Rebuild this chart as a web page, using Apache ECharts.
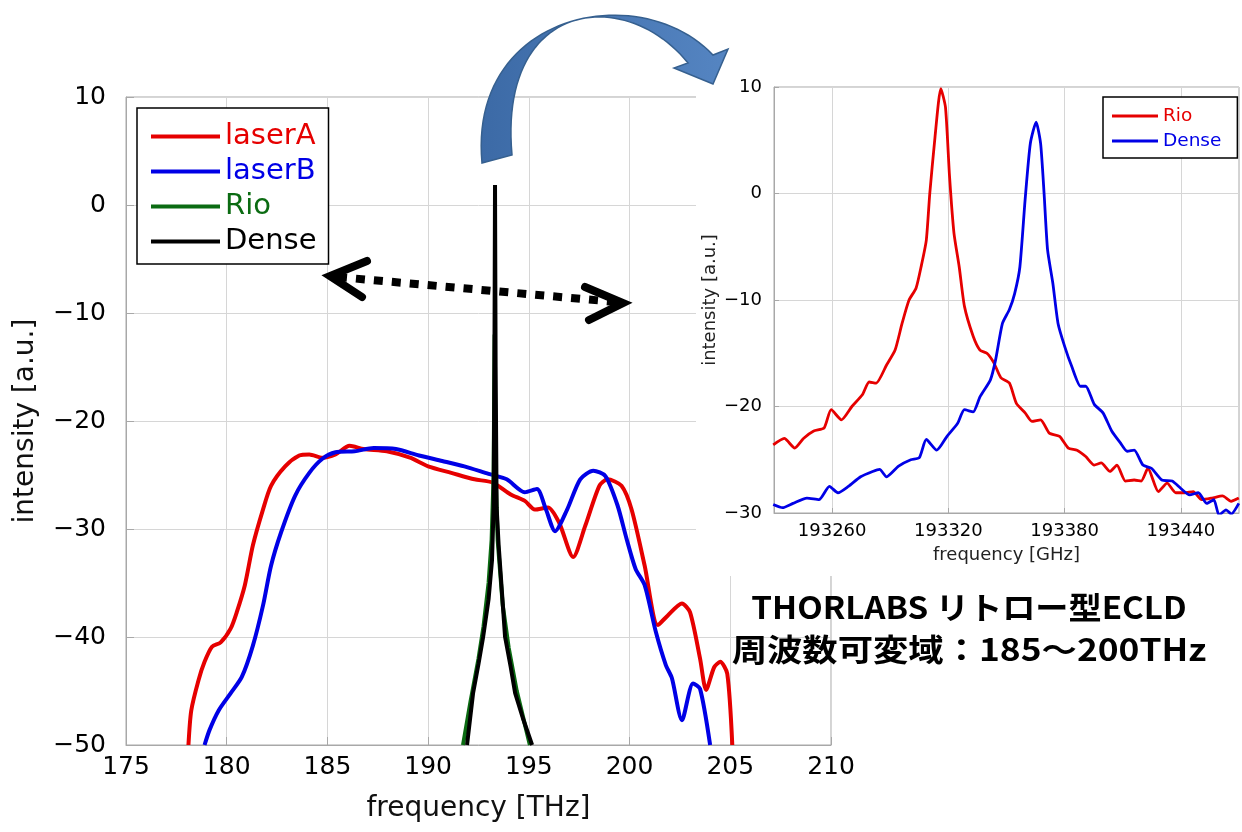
<!DOCTYPE html>
<html>
<head>
<meta charset="utf-8">
<script src="https://cdn.jsdelivr.net/npm/echarts@6/dist/echarts.min.js"></script>
<style>
html,body{margin:0;padding:0;background:#fff;}
#chart{width:1242px;height:832px;}
</style>
</head>
<body>
<div id="chart"></div>
<script>
// ---------- main chart data (frequency THz, intensity a.u.) ----------
const laserA = [[178.1,-50],[178.24,-46.8],[178.6,-44],[178.9,-42.3],[179.27,-40.9],[179.7,-40.5],[180.2,-39.2],[180.5,-37.7],[180.9,-35.2],[181.3,-31.5],[181.8,-28.2],[182.2,-26],[182.9,-24.2],[183.6,-23.2],[184.1,-23.1],[184.75,-23.4],[185.4,-23.1],[186.1,-22.3],[186.8,-22.6],[187.95,-22.8],[189.1,-23.4],[190,-24.2],[191.15,-24.8],[192.3,-25.4],[193.2,-25.7],[194.1,-26.8],[194.8,-27.4],[195.3,-28.2],[195.95,-28],[196.5,-29.4],[197.2,-32.6],[197.8,-29.7],[198.5,-26],[198.9,-25.4],[199.6,-26],[200.1,-28.2],[200.75,-33.4],[201.4,-38.9],[201.9,-38],[202.6,-36.9],[203.0,-37.7],[203.5,-42],[203.8,-44.9],[204.2,-42.8],[204.5,-42.3],[204.85,-43.4],[205.1,-50]];
const laserB = [[178.9,-50],[179.15,-48.6],[179.6,-46.8],[180.2,-45.2],[180.75,-43.7],[181.3,-40.8],[181.8,-37.1],[182.2,-33.4],[182.7,-30.3],[183.4,-26.9],[184.1,-24.8],[184.75,-23.5],[185.4,-22.9],[186.35,-22.8],[187.3,-22.5],[188.4,-22.6],[189.55,-23.2],[190.7,-23.7],[191.8,-24.2],[193,-24.9],[193.9,-25.4],[194.8,-26.6],[195.4,-26.3],[195.85,-28.2],[196.3,-30.2],[196.9,-28.2],[197.55,-25.4],[198.2,-24.6],[198.8,-25.1],[199.4,-27.8],[199.85,-30.9],[200.3,-33.7],[200.75,-35.2],[201.3,-39.5],[201.8,-42.6],[202.1,-43.8],[202.6,-47.7],[203.15,-44.3],[203.5,-44.8],[204.0,-50]];
const rioMain = [[191.73,-50],[192.1,-46],[192.5,-42],[192.75,-39],[193.0,-35],[193.15,-31],[193.25,-25],[193.3,-12],[193.35,-25],[193.45,-31],[193.7,-37],[194.0,-41],[194.4,-45],[195.05,-50]];
const denseMain = [[191.93,-50],[192.23,-45.2],[192.5,-42.5],[192.73,-40],[193.0,-36.5],[193.17,-32.9],[193.25,-28],[193.29,-15],[193.32,1.85],[193.35,-15],[193.4,-28],[193.5,-31.5],[193.82,-40],[194.1,-42.8],[194.32,-45.2],[194.7,-47.5],[195.16,-50]];

// ---------- inset data (frequency GHz, intensity a.u.) ----------
const rioInset = [[193229.6,-23.6],[193235.3,-23.0],[193240.7,-23.9],[193245.2,-23.0],[193250.5,-22.3],[193255.9,-22.0],[193259.5,-20.3],[193264.8,-21.25],[193270.2,-20],[193275.6,-18.9],[193279.1,-17.7],[193282.7,-17.8],[193288.1,-16.1],[193292.5,-14.7],[193296.1,-12.2],[193299.7,-10],[193303.3,-8.9],[193305.9,-6.9],[193308.6,-4.4],[193310.4,0],[193313.1,5.3],[193316.1,9.85],[193318.5,8.1],[193320.6,1.6],[193322.9,-3.75],[193325.6,-6.9],[193328.3,-10.6],[193332.8,-13.4],[193336.3,-14.7],[193339.9,-15],[193343.5,-15.9],[193347.1,-17.3],[193351.5,-17.8],[193355.1,-19.7],[193359.6,-20.6],[193363.1,-21.4],[193367.6,-21.25],[193372.1,-22.5],[193377.4,-22.8],[193381.9,-23.9],[193386.4,-24.1],[193390.9,-24.7],[193395.3,-25.5],[193398.9,-25.3],[193403.4,-26.1],[193407,-25.5],[193411.4,-27],[193415.9,-26.9],[193419.5,-27],[193423.0,-25.8],[193428.4,-28],[193432.9,-27.2],[193437.4,-28.1],[193441.8,-28.1],[193446.4,-28],[193450.7,-28.75],[193456.1,-28.6],[193461.5,-28.4],[193465.9,-28.9],[193469.9,-28.6]];
const denseInset = [[193229.6,-29.2],[193234.4,-29.5],[193239.8,-29.1],[193247,-28.6],[193253.2,-28.75],[193258.6,-27.5],[193263,-28.1],[193268.4,-27.5],[193274.7,-26.6],[193280.9,-26.1],[193284.5,-25.9],[193288.1,-26.6],[193294.3,-25.6],[193300.6,-25],[193305,-24.8],[193308.6,-23.1],[193314,-24.1],[193319.3,-22.8],[193324.7,-21.6],[193328.3,-20.3],[193332.8,-20.5],[193336.3,-19.1],[193341.7,-17.5],[193344.4,-15.6],[193347.9,-12.2],[193351.5,-10.9],[193354.2,-9.4],[193356.9,-6.9],[193359.6,-0.6],[193362.3,4.7],[193365.3,6.7],[193367.6,4.7],[193369.4,0],[193371.2,-5.3],[193373.9,-8.4],[193376.6,-12.2],[193380.1,-14.4],[193383.7,-16.25],[193388.2,-18.1],[193390.9,-18.1],[193395.3,-19.8],[193399.8,-20.6],[193404.3,-22.3],[193408.7,-23.4],[193412.3,-24.2],[193415.9,-24.1],[193420.4,-25.5],[193424.8,-25.8],[193430.2,-26.9],[193435.5,-27],[193440,-27.7],[193444.5,-28.3],[193449,-28.1],[193453.4,-29.1],[193457,-28.75],[193459.7,-30.2],[193463.3,-29.7],[193466,-30.1],[193469.9,-29.1]];

const insetTicks = [193260, 193320, 193380, 193440];
const mainNames = ['laserA', 'laserB', 'Rio', 'Dense'];
const insetNames = ['Rio', 'Dense'];
const noteLines = ['THORLABS リトロー型ECLD', '周波数可変域：185～200THz'];

const RED = '#e60000', BLUE = '#0000e6', GREEN = '#0b6b12', BLACK = '#000000';
const FONT = 'DejaVu Sans';
const minusFmt = v => (v < 0 ? '\u2212' + Math.abs(v) : String(v));

// curved arrow outline (decoration), sampled from cubic curves
function cubic(p0, p1, p2, p3, n) {
  const pts = [];
  for (let i = 0; i <= n; i++) {
    const t = i / n, u = 1 - t;
    pts.push([
      u*u*u*p0[0] + 3*u*u*t*p1[0] + 3*u*t*t*p2[0] + t*t*t*p3[0],
      u*u*u*p0[1] + 3*u*u*t*p1[1] + 3*u*t*t*p2[1] + t*t*t*p3[1]
    ]);
  }
  return pts;
}
const arrowPts = []
  .concat(cubic([482,163],[468,12],[640,-22],[713,55], 50))
  .concat([[728,49],[713,84],[674,68]])
  .concat(cubic([688,63],[625,-15],[498,0],[512,155], 50));

const chart = echarts.init(document.getElementById('chart'), null, {renderer: 'canvas'});

const option = {
  backgroundColor: '#ffffff',
  animation: false,
  grid: [
    {left: 126, right: 411, top: 97, bottom: 87, show: true, borderColor: '#a8a8a8', borderWidth: 1, z: 0},
    {left: 774, right: 3, top: 87, bottom: 319, show: true, borderColor: '#a8a8a8', borderWidth: 1, backgroundColor: '#ffffff', z: 6}
  ],
  xAxis: [
    {
      type: 'value', gridIndex: 0, min: 175, max: 210, interval: 5,
      name: 'frequency [THz]', nameLocation: 'middle', nameGap: 50,
      nameTextStyle: {fontFamily: FONT, fontSize: 28, color: '#111'},
      axisLine: {show: true, onZero: false, lineStyle: {color: '#a8a8a8', width: 1}},
      axisTick: {show: true, inside: true, length: 8, lineStyle: {color: '#a8a8a8'}},
      axisLabel: {fontFamily: FONT, fontSize: 25, color: '#000', margin: 10},
      splitLine: {show: true, lineStyle: {color: '#d6d6d6', width: 1}}
    },
    {
      type: 'value', gridIndex: 1, min: 193230, max: 193470, z: 6,
      name: 'frequency [GHz]', nameLocation: 'middle', nameGap: 33,
      nameTextStyle: {fontFamily: FONT, fontSize: 18, color: '#222'},
      axisLine: {show: true, onZero: false, lineStyle: {color: '#a8a8a8', width: 1}},
      axisTick: {show: true, inside: true, length: 5, customValues: insetTicks, lineStyle: {color: '#a8a8a8'}},
      axisLabel: {fontFamily: FONT, fontSize: 18, color: '#000', margin: 9, customValues: insetTicks, formatter: v => String(v)},
      splitLine: {show: true, lineStyle: {color: '#d6d6d6', width: 1}}
    }
  ],
  yAxis: [
    {
      type: 'value', gridIndex: 0, min: -50, max: 10, interval: 10,
      name: 'intensity [a.u.]', nameLocation: 'middle', nameGap: 86, nameRotate: 90,
      nameTextStyle: {fontFamily: FONT, fontSize: 28, color: '#111'},
      axisLine: {show: true, onZero: false, lineStyle: {color: '#a8a8a8', width: 1}},
      axisTick: {show: true, inside: true, length: 8, lineStyle: {color: '#a8a8a8'}},
      axisLabel: {fontFamily: FONT, fontSize: 25, color: '#000', margin: 20, formatter: minusFmt},
      splitLine: {show: true, lineStyle: {color: '#d6d6d6', width: 1}}
    },
    {
      type: 'value', gridIndex: 1, min: -30, max: 10, interval: 10, z: 6,
      name: 'intensity [a.u.]', nameLocation: 'middle', nameGap: 55, nameRotate: 90,
      nameTextStyle: {fontFamily: FONT, fontSize: 18, color: '#222'},
      axisLine: {show: true, onZero: false, lineStyle: {color: '#a8a8a8', width: 1}},
      axisTick: {show: true, inside: true, length: 5, lineStyle: {color: '#a8a8a8'}},
      axisLabel: {fontFamily: FONT, fontSize: 18, color: '#000', margin: 12, formatter: minusFmt},
      splitLine: {show: true, lineStyle: {color: '#d6d6d6', width: 1}}
    }
  ],
  legend: [
    {
      left: 137, top: 108, orient: 'vertical', z: 4,
      padding: [11, 12, 5, 14], itemGap: 0, itemWidth: 69, itemHeight: 4, icon: 'rect',
      backgroundColor: '#ffffff', borderColor: '#000', borderWidth: 1.5, borderRadius: 0,
      textStyle: {fontFamily: FONT, fontSize: 29, lineHeight: 35},
      data: [
        {name: mainNames[0], textStyle: {color: RED}},
        {name: mainNames[1], textStyle: {color: BLUE}},
        {name: mainNames[2], textStyle: {color: GREEN}},
        {name: mainNames[3], textStyle: {color: BLACK}}
      ]
    },
    {
      left: 1103, top: 97, orient: 'vertical', z: 9,
      padding: [8, 16, 6, 9], itemGap: 3, itemWidth: 46, itemHeight: 3, icon: 'rect',
      backgroundColor: '#ffffff', borderColor: '#000', borderWidth: 1.5, borderRadius: 0,
      textStyle: {fontFamily: FONT, fontSize: 18.5, lineHeight: 22},
      formatter: n => n.replace(' (inset)', ''),
      data: [
        {name: insetNames[0] + ' (inset)', textStyle: {color: RED}},
        {name: insetNames[1] + ' (inset)', textStyle: {color: BLUE}}
      ]
    }
  ],
  series: [
    {name: mainNames[0], type: 'line', xAxisIndex: 0, yAxisIndex: 0, data: laserA, showSymbol: false, symbol: 'none', smooth: 0.25, lineStyle: {color: RED, width: 4}, itemStyle: {color: RED}, z: 2},
    {name: mainNames[1], type: 'line', xAxisIndex: 0, yAxisIndex: 0, data: laserB, showSymbol: false, symbol: 'none', smooth: 0.25, lineStyle: {color: BLUE, width: 4}, itemStyle: {color: BLUE}, z: 2},
    {name: mainNames[2], type: 'line', xAxisIndex: 0, yAxisIndex: 0, data: rioMain, showSymbol: false, symbol: 'none', lineStyle: {color: GREEN, width: 4}, itemStyle: {color: GREEN}, z: 2},
    {name: mainNames[3], type: 'line', xAxisIndex: 0, yAxisIndex: 0, data: denseMain, showSymbol: false, symbol: 'none', lineStyle: {color: BLACK, width: 4}, itemStyle: {color: BLACK}, z: 2},
    {name: insetNames[0] + ' (inset)', type: 'line', xAxisIndex: 1, yAxisIndex: 1, data: rioInset, showSymbol: false, symbol: 'none', smooth: 0.2, lineStyle: {color: RED, width: 2.8}, itemStyle: {color: RED}, z: 8},
    {name: insetNames[1] + ' (inset)', type: 'line', xAxisIndex: 1, yAxisIndex: 1, data: denseInset, showSymbol: false, symbol: 'none', smooth: 0.2, lineStyle: {color: BLUE, width: 2.8}, itemStyle: {color: BLUE}, z: 8}
  ],
  graphic: [
    {type: 'rect', z: 5, silent: true, shape: {x: 696, y: 55, width: 546, height: 521}, style: {fill: '#ffffff'}},
    {type: 'line', z: 20, silent: true, shape: {x1: 338, y1: 277, x2: 616, y2: 302}, style: {stroke: '#000', lineWidth: 8, lineDash: [9, 9]}},
    {type: 'polyline', z: 20, silent: true, shape: {points: [[367, 261], [330, 276], [362, 297]]}, style: {stroke: '#000', fill: null, lineWidth: 8, lineCap: 'round', lineJoin: 'miter'}},
    {type: 'polyline', z: 20, silent: true, shape: {points: [[585, 287], [623, 303], [589, 320]]}, style: {stroke: '#000', fill: null, lineWidth: 8, lineCap: 'round', lineJoin: 'miter'}},
    {type: 'polygon', z: 21, silent: true, shape: {points: arrowPts},
     style: {fill: {type: 'linear', x: 0, y: 0, x2: 1, y2: 0, colorStops: [{offset: 0, color: '#3c6aa6'}, {offset: 1, color: '#5585c2'}]}, stroke: '#36608f', lineWidth: 1.5}},
    {type: 'text', z: 20, silent: true, x: 969, y: 607, scaleX: 1.07, scaleY: 1,
     style: {text: noteLines[0], x: 0, y: 0, textAlign: 'center', textVerticalAlign: 'middle', fontFamily: 'Noto Sans CJK JP', fontWeight: 'bold', fontSize: 31, fill: '#000'}},
    {type: 'text', z: 20, silent: true, x: 969, y: 649, scaleX: 1.14, scaleY: 1,
     style: {text: noteLines[1], x: 0, y: 0, textAlign: 'center', textVerticalAlign: 'middle', fontFamily: 'Noto Sans CJK JP', fontWeight: 'bold', fontSize: 31, fill: '#000'}}
  ]
};
chart.setOption(option);
</script>
</body>
</html>
